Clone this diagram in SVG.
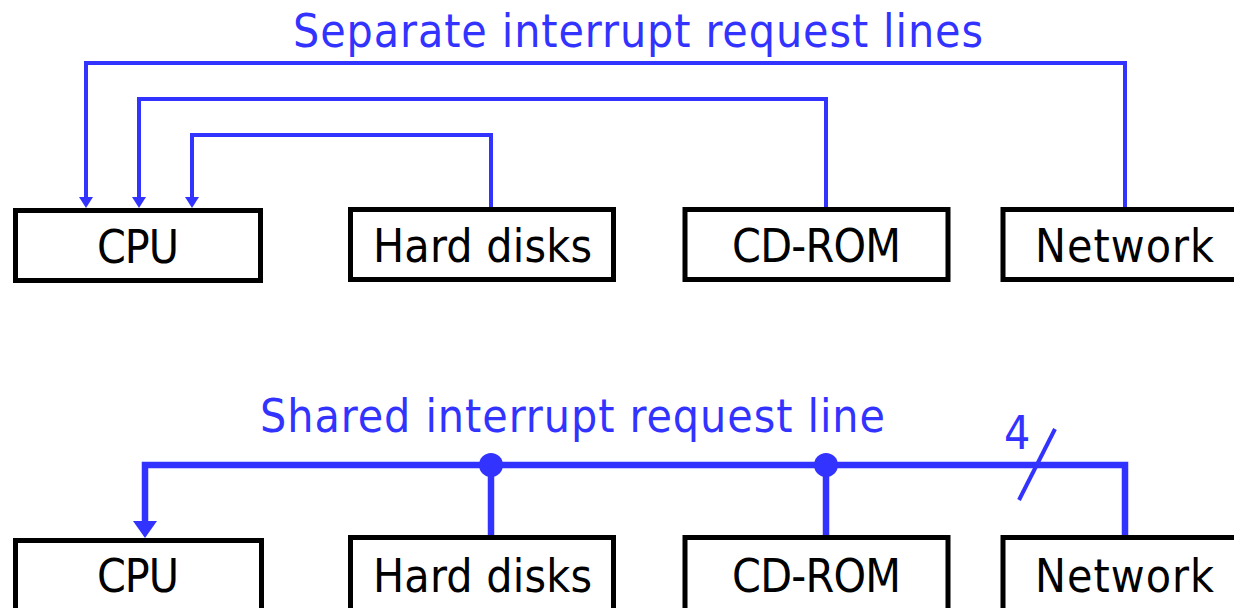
<svg xmlns="http://www.w3.org/2000/svg" width="1234" height="608" viewBox="0 0 1234 608">
<style>
.box{fill:#fff;stroke:#000;stroke-width:5}
.lbl{font-family:"DejaVu Sans Condensed","DejaVu Sans",sans-serif;font-size:46px;fill:#000}
.ttl{font-family:"DejaVu Sans Condensed","DejaVu Sans",sans-serif;font-size:46px;fill:#3333ff}
.w1{fill:none;stroke:#3333ff;stroke-width:4}
.w2{fill:none;stroke:#3333ff;stroke-width:6.5}
.ah{fill:#3333ff}
</style>
<rect width="1234" height="608" fill="#fff"/>
<text class="ttl" x="293" y="47" textLength="690">Separate interrupt request lines</text>
<text class="ttl" x="260" y="432" textLength="625">Shared interrupt request line</text>
<g id="connectors">
<path class="w1" d="M1125,207 V63 H86 V198"/>
<path class="w1" d="M826,207 V99 H139 V198"/>
<path class="w1" d="M491,207 V135 H192 V198"/>
<polygon class="ah" points="79,197 93,197 86,208"/>
<polygon class="ah" points="132,197 146,197 139,208"/>
<polygon class="ah" points="185,197 199,197 192,208"/>
<path class="w2" d="M1125,538 V465 H145 V522"/>
<polygon class="ah" points="133,521 157,521 145,538"/>
<path class="w2" d="M491,465 V538"/>
<path class="w2" d="M826,465 V538"/>
<circle class="ah" cx="491" cy="465" r="12"/>
<circle class="ah" cx="826" cy="465" r="12"/>
<line x1="1055" y1="429" x2="1019" y2="500" stroke="#3333ff" stroke-width="4"/>
<text class="ttl" x="1004" y="449" textLength="25">4</text>
</g>
<g id="cpu1"><rect class="box" x="15.5" y="210.5" width="245" height="70"/><text class="lbl" x="97" y="263" textLength="82">CPU</text></g>
<g id="hd1"><rect class="box" x="350.5" y="209.5" width="263" height="70"/><text class="lbl" x="373" y="262" textLength="219">Hard disks</text></g>
<g id="cd1"><rect class="box" x="685" y="209.5" width="263" height="70"/><text class="lbl" x="732" y="262" textLength="169">CD-ROM</text></g>
<g id="net1"><rect class="box" x="1003" y="209.5" width="260" height="70"/><text class="lbl" x="1035" y="262" textLength="179">Network</text></g>
<g id="cpu2"><rect class="box" x="15.5" y="540.5" width="246" height="100"/><text class="lbl" x="97" y="592" textLength="82">CPU</text></g>
<g id="hd2"><rect class="box" x="350.5" y="537.5" width="263" height="100"/><text class="lbl" x="373" y="592" textLength="219">Hard disks</text></g>
<g id="cd2"><rect class="box" x="685" y="537.5" width="263" height="100"/><text class="lbl" x="732" y="592" textLength="169">CD-ROM</text></g>
<g id="net2"><rect class="box" x="1003" y="537.5" width="260" height="100"/><text class="lbl" x="1035" y="592" textLength="179">Network</text></g>
</svg>
